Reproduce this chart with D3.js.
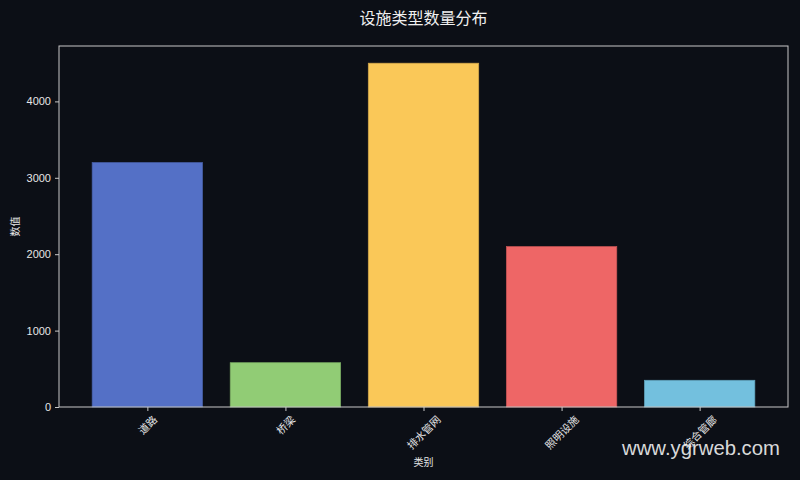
<!DOCTYPE html>
<html>
<head>
<meta charset="utf-8">
<script src="https://cdn.jsdelivr.net/npm/d3@7"></script>
<style>
  html, body { margin: 0; padding: 0; background: #0c0f16; }
  svg { display: block; }
  text { font-family: "Liberation Sans", "Noto Sans CJK SC", sans-serif; }
</style>
</head>
<body>
<svg width="800" height="480"></svg>
<script>
const categories = ['道路', '桥梁', '排水管网', '照明设施', '综合管廊'];
const values = [3200, 580, 4500, 2100, 350];
const colors = ['#5470c6', '#91cc75', '#fac858', '#ee6666', '#73c0de'];
const yTicks = [0, 1000, 2000, 3000, 4000];

const svg = d3.select('svg');
const mLeft = 59, mRight = 788, mTop = 46, mBottom = 407;
const axisColor = '#c8c8c8';
const textColor = '#e6e6e6';
const cjk = '"Noto Sans CJK SC", sans-serif';

const x = d3.scaleLinear()
    .domain([-0.64, categories.length - 1 + 0.64])
    .range([mLeft, mRight]);
const y = d3.scaleLinear()
    .domain([0, d3.max(values) * 1.05])
    .range([mBottom, mTop]);

// bars
svg.append('g').selectAll('rect').data(values)
    .enter().append('rect')
    .attr('x', (d, i) => x(i - 0.4))
    .attr('width', (d, i) => x(i + 0.4) - x(i - 0.4))
    .attr('y', d => y(d))
    .attr('height', d => mBottom - y(d))
    .attr('fill', (d, i) => colors[i])
    .attr('stroke', (d, i) => d3.color(colors[i]).darker(0.5))
    .attr('stroke-width', 0.7);

// frame
svg.append('rect')
    .attr('x', mLeft).attr('y', mTop)
    .attr('width', mRight - mLeft).attr('height', mBottom - mTop)
    .attr('fill', 'none')
    .attr('stroke', axisColor)
    .attr('stroke-width', 1);

// y axis
const yAxis = svg.append('g')
    .attr('transform', `translate(${mLeft},0)`)
    .call(d3.axisLeft(y).tickValues(yTicks).tickFormat(d3.format('d'))
        .tickSize(4).tickPadding(4));
yAxis.select('.domain').remove();
yAxis.selectAll('line').attr('stroke', axisColor);
yAxis.selectAll('text').attr('fill', textColor).attr('font-size', 11)
    .attr('font-family', '"Liberation Sans", sans-serif');

// x axis
const xAxis = svg.append('g')
    .attr('transform', `translate(0,${mBottom})`)
    .call(d3.axisBottom(x).tickValues(d3.range(categories.length))
        .tickFormat(i => categories[i]).tickSize(4));
xAxis.select('.domain').remove();
xAxis.selectAll('line').attr('stroke', axisColor);
xAxis.selectAll('text')
    .attr('fill', textColor)
    .attr('font-size', 10.5)
    .attr('font-family', cjk)
    .attr('text-anchor', 'middle')
    .attr('dy', '0.35em')
    .attr('y', 0)
    .attr('transform', function() {
        // centre the rotated label under its tick, top of its box just below the tick
        const len = this.getComputedTextLength();
        const half = (len + 10.5) / (2 * Math.SQRT2);
        return `translate(0,${7 + half}) rotate(-45)`;
    });

// axis titles
svg.append('text')
    .attr('x', (mLeft + mRight) / 2).attr('y', 466)
    .attr('text-anchor', 'middle')
    .attr('fill', textColor).attr('font-size', 10).attr('font-family', cjk)
    .text('类别');
svg.append('text')
    .attr('transform', `translate(19,${(mTop + mBottom) / 2}) rotate(-90)`)
    .attr('text-anchor', 'middle')
    .attr('fill', textColor).attr('font-size', 10).attr('font-family', cjk)
    .text('数值');

// title
svg.append('text')
    .attr('x', (mLeft + mRight) / 2).attr('y', 24)
    .attr('text-anchor', 'middle')
    .attr('fill', '#f0f0f0').attr('font-size', 16).attr('font-family', cjk)
    .text('设施类型数量分布');

// watermark
svg.append('text')
    .attr('x', 622).attr('y', 455)
    .attr('textLength', 158)
    .attr('lengthAdjust', 'spacingAndGlyphs')
    .attr('fill', '#ffffff').attr('fill-opacity', 0.85)
    .attr('font-size', 20).attr('font-family', '"Noto Sans", "Open Sans", sans-serif')
    .text('www.ygrweb.com');
</script>
</body>
</html>
